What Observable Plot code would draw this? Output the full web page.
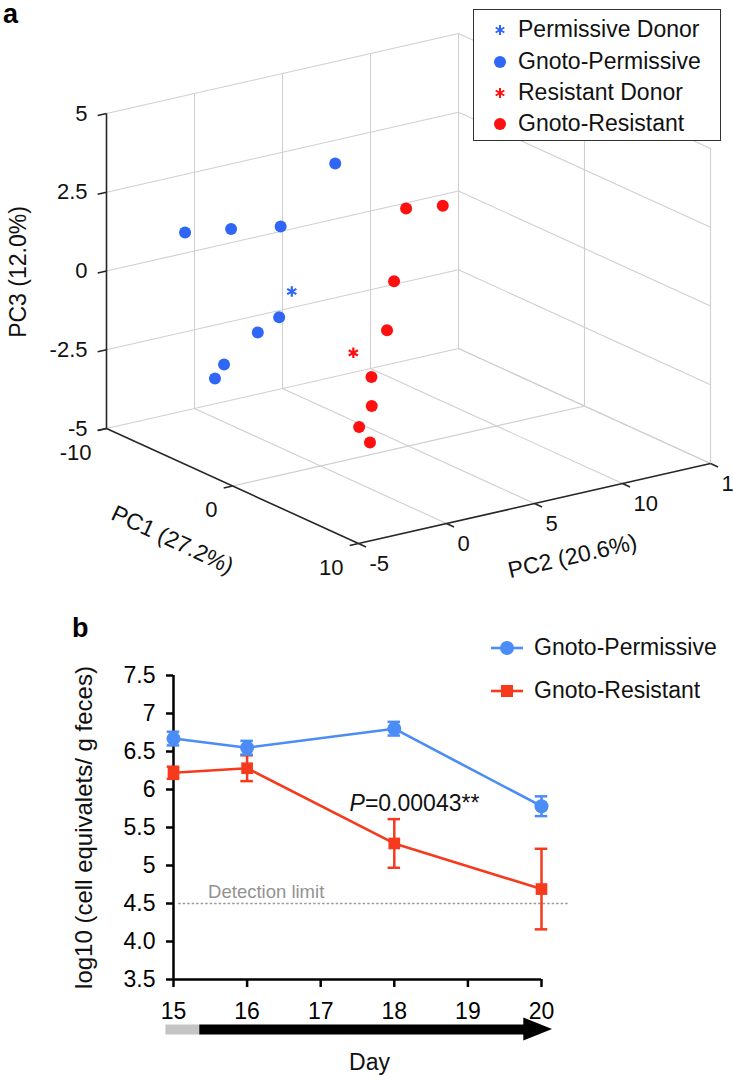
<!DOCTYPE html>
<html>
<head>
<meta charset="utf-8">
<script src="https://cdn.jsdelivr.net/npm/d3@7"></script>
<script src="https://cdn.jsdelivr.net/npm/@observablehq/plot@0.6"></script>
<style>
  body { margin: 0; background: #fff; font-family: "Liberation Sans", Arial, Helvetica, sans-serif; }
  #wrap { position: relative; width: 733px; height: 1080px; overflow: hidden; background: #fff; }
  #wrap > svg { position: absolute; left: 0; }
  .panel-label { position: absolute; font-weight: bold; font-size: 27px; line-height: 1; color: #000; }
  .legend { position: absolute; background: #fff; color: #111; }
  .legend .row { position: absolute; left: 0; white-space: nowrap; line-height: 1; }
  .legend .row svg { position: absolute; top: 0; }
  .legend .row span { position: absolute; top: 0; }
</style>
</head>
<body>
<div id="wrap"></div>
<script>
// ---------------- Panel a: PCA scores (PC1, PC2, PC3) ----------------
const gnotoPermPC1 = [-4, -6, -5, -4, -3, -4, -5, -6];
const gnotoPermPC2 = [3.7, -3.4, -1.5, 0.6, -0.2, -0.7, -1.9, -1.7];
const gnotoPermPC3 = [3.4, 1.75, 1.8, 1.8, -0.8, -1.4, -2.45, -3.1];

const gnotoResPC1 = [4, 3, 5, 5, 6, 7, 6, 7];
const gnotoResPC2 = [2, 4.8, 0.6, 0.2, -1.4, -2.1, -2.1, -2.2];
const gnotoResPC3 = [3.65, 3.2, 1.7, 0.2, -0.9, -1.55, -2.4, -2.7];

const permDonorPC = [-2, -0.2, 0.2];
const resDonorPC = [4, -1.0, -0.55];

const pc1Ticks = [-10, 0, 10];
const pc2Ticks = [-5, 0, 5, 10, 15];
const pc3Ticks = [-5, -2.5, 0, 2.5, 5];
const pc3TickLabels = ["-5", "-2.5", "0", "2.5", "5"];
const pc1Domain = [-10, 10];
const pc2Domain = [-5, 15];
const pc3Domain = [-5, 5];
const axisTitles = {pc1: "PC1 (27.2%)", pc2: "PC2 (20.6%)", pc3: "PC3 (12.0%)"};
const legendA = ["Permissive Donor", "Gnoto-Permissive", "Resistant Donor", "Gnoto-Resistant"];

// ---------------- Panel b: time course ----------------
const days = [15, 16, 18, 20];
const permMean = [6.67, 6.55, 6.80, 5.78];
const permErr = [0.09, 0.09, 0.09, 0.13];
const resMean = [6.22, 6.28, 5.29, 4.69];
const resErr = [0.08, 0.17, 0.32, 0.53];
const yTicks = [3.5, 4, 4.5, 5, 5.5, 6, 6.5, 7, 7.5];
const yTickLabels = ["3.5", "4.0", "4.5", "5", "5.5", "6", "6.5", "7", "7.5"];
const xTicks = [15, 16, 17, 18, 19, 20];
const detectionLimit = 4.5;
const pValueLabel = "=0.00043**";
const legendB = ["Gnoto-Permissive", "Gnoto-Resistant"];
const yTitle = "log10 (cell equivalets/ g feces)";
const xTitle = "Day";

// ---------------- styles ----------------
const FONT = '"Liberation Sans", Arial, Helvetica, sans-serif';
const blueA = "#2f66f6", redA = "#fe1010";
const blueB = "#4b8cf6", redB = "#f53a1e";
const gridColor = "#cfcfcf", axisColor = "#262626";

const wrap = document.getElementById("wrap");

// oblique 3D projection (pixels per unit along each data axis)
const proj = {u: [12.6, -5.75], v: [17.6, 4], w: [0, 31.5]};
function P(p1, p2, p3) {
  const u = p1 - pc1Domain[0], v = p2 - pc2Domain[0], w = p3 - pc3Domain[0];
  return [u * proj.u[0] + v * proj.v[0] + w * proj.w[0],
          u * proj.u[1] + v * proj.v[1] + w * proj.w[1]];
}
const seg = (a, b) => ({a, b});
const linkOpts = (extra) => Object.assign({
  x1: d => P(...d.a)[0], y1: d => P(...d.a)[1],
  x2: d => P(...d.b)[0], y2: d => P(...d.b)[1]
}, extra);

// grid lines on the two back walls and the floor
const grid = [];
for (const z of pc3Ticks) {
  grid.push(seg([pc1Domain[0], pc2Domain[0], z], [pc1Domain[0], pc2Domain[1], z]));
  grid.push(seg([pc1Domain[0], pc2Domain[1], z], [pc1Domain[1], pc2Domain[1], z]));
}
for (const p2 of pc2Ticks.filter(t => t > pc2Domain[0])) {
  grid.push(seg([pc1Domain[0], p2, pc3Domain[0]], [pc1Domain[0], p2, pc3Domain[1]]));
  grid.push(seg([pc1Domain[0], p2, pc3Domain[0]], [pc1Domain[1], p2, pc3Domain[0]]));
}
for (const p1 of pc1Ticks.filter(t => t > pc1Domain[0])) {
  grid.push(seg([p1, pc2Domain[1], pc3Domain[0]], [p1, pc2Domain[1], pc3Domain[1]]));
  if (p1 < pc1Domain[1]) grid.push(seg([p1, pc2Domain[0], pc3Domain[0]], [p1, pc2Domain[1], pc3Domain[0]]));
}
const axesSegs = [
  seg([pc1Domain[0], pc2Domain[0], pc3Domain[0]], [pc1Domain[0], pc2Domain[0], pc3Domain[1]]),
  seg([pc1Domain[0], pc2Domain[0], pc3Domain[0]], [pc1Domain[1], pc2Domain[0], pc3Domain[0]]),
  seg([pc1Domain[1], pc2Domain[0], pc3Domain[0]], [pc1Domain[1], pc2Domain[1], pc3Domain[0]])
];
const tickSegs = [
  ...pc3Ticks.map(z => seg([pc1Domain[0], pc2Domain[0], z], [pc1Domain[0], pc2Domain[0] - 0.5, z])),
  ...pc1Ticks.map(p => seg([p, pc2Domain[0], pc3Domain[0]], [p, pc2Domain[0] - 0.5, pc3Domain[0]])),
  ...pc2Ticks.map(p => seg([pc1Domain[1], p, pc3Domain[0]], [pc1Domain[1] + 0.6, p, pc3Domain[0]]))
];

const toPts = (a, b, c) => a.map((p1, i) => ({p1, p2: b[i], p3: c[i]}));
const gp = toPts(gnotoPermPC1, gnotoPermPC2, gnotoPermPC3);
const gr = toPts(gnotoResPC1, gnotoResPC2, gnotoResPC3);
const pd = [{p1: permDonorPC[0], p2: permDonorPC[1], p3: permDonorPC[2]}];
const rd = [{p1: resDonorPC[0], p2: resDonorPC[1], p3: resDonorPC[2]}];
const px = d => P(d.p1, d.p2, d.p3)[0];
const py = d => P(d.p1, d.p2, d.p3)[1];

const plotA = Plot.plot({
  width: 733, height: 590,
  x: {domain: [-106, 627], range: [0, 733], axis: null},
  y: {domain: [-162, 428], range: [590, 0], axis: null},
  style: {fontFamily: FONT, fontSize: "22px", color: "#111", background: "transparent", overflow: "visible"},
  marks: [
    Plot.link(grid, linkOpts({stroke: gridColor, strokeWidth: 1.1})),
    Plot.link(axesSegs, linkOpts({stroke: axisColor, strokeWidth: 1.6})),
    Plot.link(tickSegs, linkOpts({stroke: axisColor, strokeWidth: 1.6})),
    Plot.text(pc3Ticks, {x: d => P(pc1Domain[0], pc2Domain[0], d)[0], y: d => P(pc1Domain[0], pc2Domain[0], d)[1],
      text: (d, i) => pc3TickLabels[i], textAnchor: "end", dx: -19, fill: "#111"}),
    Plot.text(pc1Ticks, {x: d => P(d, pc2Domain[0], pc3Domain[0])[0], y: d => P(d, pc2Domain[0], pc3Domain[0])[1],
      text: d => String(d), textAnchor: "end", dx: -15, dy: 24, fill: "#111"}),
    Plot.text(pc2Ticks, {x: d => P(pc1Domain[1], d, pc3Domain[0])[0], y: d => P(pc1Domain[1], d, pc3Domain[0])[1],
      text: d => String(d), textAnchor: "start", dx: 11, dy: 20, fill: "#111"}),
    Plot.text([axisTitles.pc3], {x: P(pc1Domain[0], pc2Domain[0], 0)[0], y: P(pc1Domain[0], pc2Domain[0], 0)[1],
      rotate: -90, dx: -88, dy: 1, fill: "#111", fontSize: 23}),
    Plot.text([axisTitles.pc1], {x: P(0, pc2Domain[0], pc3Domain[0])[0], y: P(0, pc2Domain[0], pc3Domain[0])[1],
      rotate: 25, dx: -60, dy: 54, fill: "#111", fontSize: 23}),
    Plot.text([axisTitles.pc2], {x: P(pc1Domain[1], 5, pc3Domain[0])[0], y: P(pc1Domain[1], 5, pc3Domain[0])[1],
      rotate: -12.8, dx: 38, dy: 53, fill: "#111", fontSize: 23}),
    Plot.dot(gp, {x: px, y: py, r: 6, fill: blueA}),
    Plot.dot(gr, {x: px, y: py, r: 6, fill: redA}),
    Plot.dot(pd, {x: px, y: py, r: 5, symbol: "asterisk", stroke: blueA, strokeWidth: 2.2}),
    Plot.dot(rd, {x: px, y: py, r: 5, symbol: "asterisk", stroke: redA, strokeWidth: 2.2})
  ]
});
plotA.style.top = "0px";
wrap.appendChild(plotA);

// ---------------- Panel b plot ----------------
const perm = days.map((day, i) => ({day, m: permMean[i], e: permErr[i]}));
const res = days.map((day, i) => ({day, m: resMean[i], e: resErr[i]}));
const capW = 0.085;
const errMarks = (data, color) => [
  Plot.ruleX(data, {x: "day", y1: d => d.m - d.e, y2: d => d.m + d.e, stroke: color, strokeWidth: 2.5}),
  Plot.ruleY(data, {y: d => d.m + d.e, x1: d => d.day - capW, x2: d => d.day + capW, stroke: color, strokeWidth: 2.5}),
  Plot.ruleY(data, {y: d => d.m - d.e, x1: d => d.day - capW, x2: d => d.day + capW, stroke: color, strokeWidth: 2.5})
];
// treatment timeline arrow under the x axis
const phases = [{from: 14.89, to: 15.35, color: "#c4c4c4"}, {from: 15.35, to: 19.8, color: "#000"}];
const arrowHead = [{x: 19.76, y1: 3.5 - 0.15, y2: 3.5 + 0.15}, {x: 20.15, y1: 3.5, y2: 3.5}];

const plotB = Plot.plot({
  width: 733, height: 490,
  marginLeft: 173, marginRight: 192, marginTop: 85, marginBottom: 101,
  x: {domain: [15, 20]},
  y: {domain: [3.5, 7.5]},
  style: {fontFamily: FONT, fontSize: "23px", color: "#000", background: "transparent", overflow: "visible"},
  marks: [
    Plot.axisY({ticks: yTicks, tickFormat: d => yTickLabels[yTicks.indexOf(d)], tickSize: 7, tickPadding: 11,
      strokeWidth: 2.5, label: null, fontSize: 23}),
    Plot.axisX({ticks: xTicks, tickFormat: d => String(d), tickSize: 8, tickPadding: 15,
      strokeWidth: 2.5, label: null, fontSize: 23}),
    Plot.ruleY([detectionLimit], {x1: 15.07, x2: 20.37, stroke: "#9a9a9a", strokeWidth: 1.3, strokeDasharray: "2.5,2"}),
    Plot.text(["Detection limit"], {x: 15.47, y: detectionLimit, dy: -11, textAnchor: "start", fill: "#929292", fontSize: 18.5}),
    Plot.ruleX([15], {stroke: "#000", strokeWidth: 2.5}),
    Plot.ruleY([3.5], {stroke: "#000", strokeWidth: 2.5}),
    ...errMarks(res, redB),
    Plot.line(res, {x: "day", y: "m", stroke: redB, strokeWidth: 2.6}),
    Plot.dot(res, {x: "day", y: "m", symbol: "square", r: 6.6, fill: redB}),
    ...errMarks(perm, blueB),
    Plot.line(perm, {x: "day", y: "m", stroke: blueB, strokeWidth: 2.6}),
    Plot.dot(perm, {x: "day", y: "m", r: 7, fill: blueB}),
    Plot.text(["P"], {x: 17.39, y: 5.82, textAnchor: "start", fontStyle: "italic", fill: "#111", fontSize: 23}),
    Plot.text([pValueLabel], {x: 17.39, y: 5.82, dx: 15.5, textAnchor: "start", fill: "#111", fontSize: 23}),
    Plot.link(phases, {x1: "from", x2: "to", y1: 3.5, y2: 3.5, dy: 50, stroke: d => d.color, strokeWidth: 10}),
    Plot.areaY(arrowHead, {x: "x", y1: "y1", y2: "y2", dy: 50, fill: "#000"}),
    Plot.text([yTitle], {frameAnchor: "left", textAnchor: "middle", rotate: -90, dx: -89, fontSize: 24, fill: "#111"}),
    Plot.text([xTitle], {frameAnchor: "bottom", dx: 12, dy: 90, fontSize: 23, fill: "#111"})
  ]
});
plotB.style.top = "590px";
wrap.appendChild(plotB);

// ---------------- panel labels ----------------
function label(txt, left, top) {
  const d = document.createElement("div");
  d.className = "panel-label"; d.textContent = txt;
  d.style.left = left + "px"; d.style.top = top + "px";
  wrap.appendChild(d);
}
label("a", 3, 1);
label("b", 72, 615);

// ---------------- legends ----------------
function legendBox(cfg) {
  const box = document.createElement("div");
  box.className = "legend";
  Object.assign(box.style, cfg.style);
  cfg.rows.forEach(r => {
    const row = document.createElement("div");
    row.className = "row";
    row.style.top = r.top + "px";
    row.style.fontSize = cfg.fontSize + "px";
    const sv = `<svg width="${cfg.markW}" height="20" style="left:${cfg.markLeft}px;top:${(cfg.fontSize - 20) / 2}px">${r.marker}</svg>`;
    row.innerHTML = sv + `<span style="left:${cfg.textLeft}px">${r.text}</span>`;
    box.appendChild(row);
  });
  wrap.appendChild(box);
}
const ast = c => `<g stroke="${c}" stroke-width="2"><line x1="10" y1="5" x2="10" y2="15"/><line x1="5.7" y1="7.5" x2="14.3" y2="12.5"/><line x1="5.7" y1="12.5" x2="14.3" y2="7.5"/></g>`;
const circ = (c, cx, r) => `<circle cx="${cx}" cy="10" r="${r}" fill="${c}"/>`;
legendBox({
  style: {left: "473px", top: "9px", width: "246px", height: "130px", border: "1.6px solid #333"},
  fontSize: 23, markW: 20, markLeft: 16, textLeft: 44,
  rows: [
    {top: 8, text: legendA[0], marker: ast(blueA)},
    {top: 40, text: legendA[1], marker: circ(blueA, 10, 6)},
    {top: 71, text: legendA[2], marker: ast(redA)},
    {top: 102, text: legendA[3], marker: circ(redA, 10, 6)}
  ]
});
legendBox({
  style: {left: "490px", top: "636px", width: "240px", height: "70px"},
  fontSize: 23, markW: 34, markLeft: 0, textLeft: 44,
  rows: [
    {top: 0, text: legendB[0], marker: `<line x1="1" y1="10" x2="33" y2="10" stroke="${blueB}" stroke-width="2.6"/>` + circ(blueB, 17, 7)},
    {top: 43, text: legendB[1], marker: `<line x1="1" y1="10" x2="33" y2="10" stroke="${redB}" stroke-width="2.6"/><rect x="11" y="4" width="12" height="12" fill="${redB}"/>`}
  ]
});
</script>
</body>
</html>
